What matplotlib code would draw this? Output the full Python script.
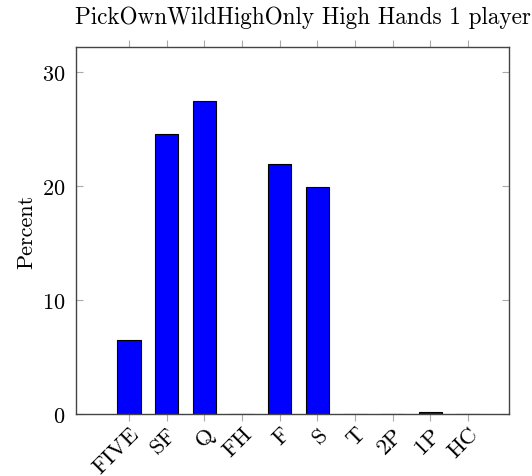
import numpy as np
import matplotlib.pyplot as plt

plt.rcParams['font.family'] = 'cmr10'
plt.rcParams['axes.formatter.use_mathtext'] = True

hands = ["FIVE", "SF", "Q", "FH", "F", "S", "T", "2P", "1P", "HC"]
percent = [6.5, 24.6, 27.5, 0.0, 21.9, 19.9, 0.0, 0.0, 0.15, 0.0]

fig = plt.figure(figsize=(5.32, 4.77), dpi=100)
ax = fig.add_axes([76/532, 1-415/477, 433/532, 367/477])

x = np.arange(len(hands))
ax.bar(x, percent, width=0.62, color="#0000ff", edgecolor="black", linewidth=0.8)

ax.set_xlim(-1.41, 10.09)
ax.set_ylim(0, 32.2)
ax.set_yticks([0, 10, 20, 30])
ax.set_xticks(x)
ax.set_xticklabels(hands, rotation=45, ha="right", rotation_mode="anchor")
ax.tick_params(axis="x", direction="out", top=True, length=5, color="#aaaaaa", labelsize=16.5, pad=2)
ax.tick_params(axis="y", direction="in", right=True, length=5, color="#aaaaaa", labelsize=16, pad=8)
for s in ax.spines.values():
    s.set_color("#444444")
    s.set_linewidth(1.0)

ax.set_ylabel("Percent", fontsize=16, labelpad=4)
ax.set_title("PickOwnWildHighOnly High Hands 1 player", fontsize=16.7, pad=17, x=0.523)

fig.savefig("out.png", dpi=100)
